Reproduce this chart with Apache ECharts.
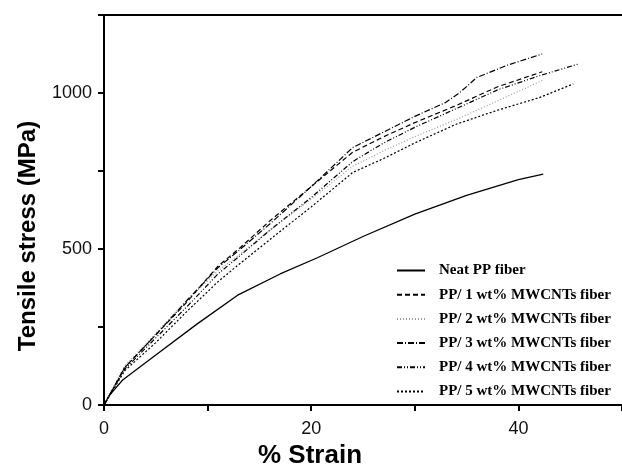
<!DOCTYPE html>
<html>
<head>
<meta charset="UTF-8">
<title>Tensile stress vs strain</title>
<script src="https://cdn.jsdelivr.net/npm/echarts@6/dist/echarts.min.js"></script>
<style>
  body { margin: 0; background: #fff; }
</style>
</head>
<body>
<div id="main" style="width:622px;height:469px;"></div>
<script type="text/javascript">
// data (strain in %, stress in MPa)
var names = ['Neat PP fiber', 'PP/ 1 wt% MWCNTs fiber', 'PP/ 2 wt% MWCNTs fiber',
             'PP/ 3 wt% MWCNTs fiber', 'PP/ 4 wt% MWCNTs fiber', 'PP/ 5 wt% MWCNTs fiber'];

var neatStrain = [0, 0.5, 1.8, 5, 9, 13, 17, 20.6, 25, 30, 35, 40, 42.4];
var neatStress = [0, 30, 80, 160, 260, 354, 420, 472, 540, 612, 672, 722, 740];

var pp1Strain = [0, 2, 5, 8, 11, 13, 16, 20, 24, 27, 30, 34, 38, 42.3];
var pp1Stress = [0, 120, 225, 330, 445, 500, 590, 700, 810, 860, 905, 960, 1020, 1068];

var pp2Strain = [0, 2, 5, 8, 11, 13, 16, 20, 24, 27, 30, 34, 38, 42.3];
var pp2Stress = [0, 125, 230, 335, 430, 480, 560, 660, 765, 815, 860, 915, 975, 1040];

var pp3Strain = [0, 2, 5, 8, 11, 13, 16, 20, 24, 27, 30, 33, 34.4, 36, 39, 42.3];
var pp3Stress = [0, 120, 225, 335, 440, 495, 580, 700, 825, 875, 925, 970, 1003, 1050, 1090, 1125];

var pp4Strain = [0, 2, 5, 8, 11, 13, 16, 20, 24, 27, 30, 34, 38, 42, 45.8];
var pp4Stress = [0, 115, 215, 315, 420, 475, 560, 665, 780, 840, 890, 950, 1010, 1055, 1093];

var pp5Strain = [0, 2, 5, 8, 11, 13, 16, 20, 24, 27, 30, 34, 38, 42, 45.3];
var pp5Stress = [0, 110, 200, 300, 395, 450, 530, 635, 745, 790, 840, 900, 945, 985, 1029];

var xTicks = [0, 20, 40];
var yTicks = [0, 500, 1000];

function pairs(xs, ys) {
  var out = [];
  for (var i = 0; i < xs.length; i++) out.push([xs[i], ys[i]]);
  return out;
}

var curves = [
  { x: neatStrain, y: neatStress, color: '#000', width: 1.3, type: 'solid' },
  { x: pp1Strain, y: pp1Stress, color: '#000', width: 1.2, type: [5, 3] },
  { x: pp2Strain, y: pp2Stress, color: '#999', width: 1.2, type: [1, 2] },
  { x: pp3Strain, y: pp3Stress, color: '#000', width: 1.2, type: [6, 2, 1, 2] },
  { x: pp4Strain, y: pp4Stress, color: '#000', width: 1.2, type: [5, 2, 1, 2, 1, 2] },
  { x: pp5Strain, y: pp5Stress, color: '#000', width: 1.2, type: [2, 2] }
];

var series = curves.map(function (c, i) {
  return {
    name: names[i],
    type: 'line',
    symbol: 'none',
    data: pairs(c.x, c.y),
    lineStyle: { color: c.color, width: c.width, type: c.type },
    itemStyle: { color: c.color }
  };
});

var axisFont = 'Liberation Sans, Arial, sans-serif';

var myChart = echarts.init(document.getElementById('main'));
myChart.setOption({
  animation: false,
  backgroundColor: '#fff',
  grid: { left: 104, top: 15, right: 0, bottom: 64, containLabel: false, outerBoundsMode: 'none' },
  legend: {
    orient: 'vertical',
    left: 391,
    top: 258,
    itemWidth: 28,
    itemHeight: 14,
    itemGap: 9.2,
    data: names,
    itemStyle: { color: 'rgba(0,0,0,0)', borderWidth: 0 },
    textStyle: {
      fontFamily: 'Liberation Serif, Times New Roman, serif',
      fontWeight: 'bold',
      fontSize: 15,
      color: '#000',
      padding: [0, 0, 0, 9]
    }
  },
  xAxis: [{
    type: 'value',
    min: 0,
    max: 50,
    interval: 10,
    name: '% Strain',
    nameLocation: 'middle',
    nameGap: 37,
    nameTextStyle: {
      fontFamily: axisFont, fontWeight: 'bold', fontSize: 26, color: '#000',
      padding: [0, 106, 0, 0]
    },
    axisLine: { lineStyle: { color: '#000', width: 2 } },
    axisTick: { length: 6, lineStyle: { color: '#000', width: 2 } },
    axisLabel: {
      margin: 15,
      fontFamily: axisFont, fontSize: 18, color: '#111',
      formatter: function (v) { return xTicks.indexOf(v) >= 0 ? String(v) : ''; }
    },
    splitLine: { show: false }
  }, {
    type: 'value',
    position: 'top',
    min: 0,
    max: 50,
    axisLine: { show: true, onZero: false, lineStyle: { color: '#000', width: 2 } },
    axisTick: { show: false },
    axisLabel: { show: false },
    splitLine: { show: false }
  }],
  yAxis: {
    type: 'value',
    min: 0,
    max: 1250,
    interval: 250,
    name: 'Tensile stress (MPa)',
    nameLocation: 'middle',
    nameGap: 64,
    nameTextStyle: {
      fontFamily: axisFont, fontWeight: 'bold', fontSize: 24, color: '#000',
      padding: [0, 52, 0, 0]
    },
    axisLine: { show: true, lineStyle: { color: '#000', width: 2 } },
    axisTick: { length: 6, lineStyle: { color: '#000', width: 2 } },
    axisLabel: {
      margin: 12,
      fontFamily: axisFont, fontSize: 18, color: '#111',
      formatter: function (v) { return yTicks.indexOf(v) >= 0 ? String(v) : ''; }
    },
    splitLine: { show: false }
  },
  series: series
});
</script>
</body>
</html>
